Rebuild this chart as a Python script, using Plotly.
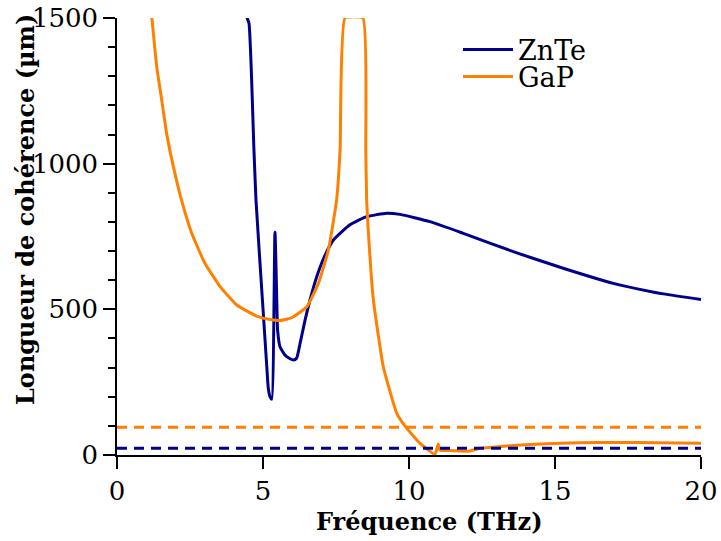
import plotly.graph_objects as go

# ZnTe coherence length (µm) vs frequency (THz)
znte_freq = [4.42, 4.44, 4.52, 4.69, 4.76, 4.98, 5.13, 5.18, 5.24, 5.30, 5.41, 5.49, 5.50, 5.58,
             5.75, 5.90, 6.04, 6.15, 6.27, 6.44, 6.61, 6.84, 7.10, 7.41, 7.98, 8.55, 9.24, 9.69,
             10.72, 11.86, 13.57, 15.28, 17.0, 18.71, 20.0]
znte_len = [1530, 1505, 1482, 1047, 875, 532, 303, 230, 200, 191, 765, 452, 429, 372,
            343, 332, 326, 332, 383, 463, 532, 612, 680, 738, 790, 818, 830, 826,
            801, 761, 698, 641, 589, 553, 534]

# GaP coherence length (µm) vs frequency (THz)
gap_freq = [1.19, 1.36, 1.53, 1.70, 1.93, 2.21, 2.56, 3.01, 3.53, 4.10, 4.78, 5.20, 5.60, 6.00,
            6.50, 6.90, 7.24, 7.52, 7.64, 7.81, 8.42, 8.52, 8.55, 8.61, 8.78, 9.12, 9.58, 9.92,
            10.38, 10.89, 11.0, 11.06, 11.50, 11.86, 12.09, 12.43, 12.66, 13.46, 14.5, 15.86,
            17.0, 18.5, 20.0]
gap_len = [1505, 1333, 1219, 1104, 990, 875, 761, 658, 578, 515, 477, 466, 462, 472,
           509, 590, 704, 875, 1047, 1500, 1500, 1047, 875, 762, 532, 303, 143, 92,
           40, 2, 38, 17, 15, 13, 14, 23, 25, 32, 38, 42, 43, 42, 40]

# Reference levels (dashed)
znte_ref = 23
gap_ref = 95
x_range = [0, 20]
y_range = [0, 1500]
x_ticks = [0, 5, 10, 15, 20]
y_ticks = [0, 500, 1000, 1500]

blue = "#00008B"
orange = "#FF8000"
font_family = "DejaVu Serif"

fig = go.Figure()
fig.add_trace(go.Scatter(x=znte_freq, y=znte_len, mode="lines", name="ZnTe", legend="legend",
                         line=dict(color=blue, width=3, shape="spline", smoothing=0.5)))
fig.add_trace(go.Scatter(x=gap_freq, y=gap_len, mode="lines", name="GaP", legend="legend2",
                         line=dict(color=orange, width=3, shape="spline", smoothing=0.4)))
fig.add_trace(go.Scatter(x=x_range, y=[gap_ref, gap_ref], mode="lines", showlegend=False,
                         line=dict(color=orange, width=3, dash="10px,7px")))
fig.add_trace(go.Scatter(x=x_range, y=[znte_ref, znte_ref], mode="lines", showlegend=False,
                         line=dict(color=blue, width=3, dash="10px,7px")))

leg_common = dict(xanchor="left", yanchor="middle", bgcolor="rgba(0,0,0,0)",
                  font=dict(size=27), itemwidth=50, borderwidth=0)

fig.update_layout(
    width=721, height=541,
    margin=dict(l=117, r=20, t=18, b=86, autoexpand=False),
    paper_bgcolor="white", plot_bgcolor="white",
    font=dict(family=font_family, size=26, color="black"),
    showlegend=True,
    legend=dict(x=(458 - 117) / 584, y=(455 - 50) / 437, **leg_common),
    legend2=dict(x=(458 - 117) / 584, y=(455 - 77) / 437, **leg_common),
    xaxis=dict(range=x_range, showgrid=False, zeroline=False, showline=True,
               linecolor="black", linewidth=1.5, ticks="outside", ticklen=12,
               tickwidth=1.5, tickcolor="black", tickvals=x_ticks, automargin=False),
    yaxis=dict(range=y_range, showgrid=False, zeroline=False, showline=True,
               linecolor="black", linewidth=1.5, ticks="outside", ticklen=12,
               tickwidth=1.5, tickcolor="black", tickvals=y_ticks, automargin=False,
               minor=dict(dtick=100, ticks="outside", ticklen=7, tickwidth=1.5,
                          tickcolor="black", showgrid=False)),
    annotations=[
        dict(text="<b>Fréquence (THz)</b>", xref="paper", yref="paper",
             x=(429 - 117) / 584, y=-(521 - 455) / 437, xanchor="center", yanchor="middle",
             showarrow=False, font=dict(size=24)),
        dict(text="<b>Longueur de cohérence (µm)</b>", xref="paper", yref="paper",
             x=-(117 - 25) / 584, y=(455 - 210) / 437, xanchor="center", yanchor="middle",
             textangle=-90, showarrow=False, font=dict(size=24)),
    ],
)

fig.write_html("out.html", config={"displayModeBar": False},
               post_script="document.body.style.margin='0';document.body.style.overflow='hidden';")
